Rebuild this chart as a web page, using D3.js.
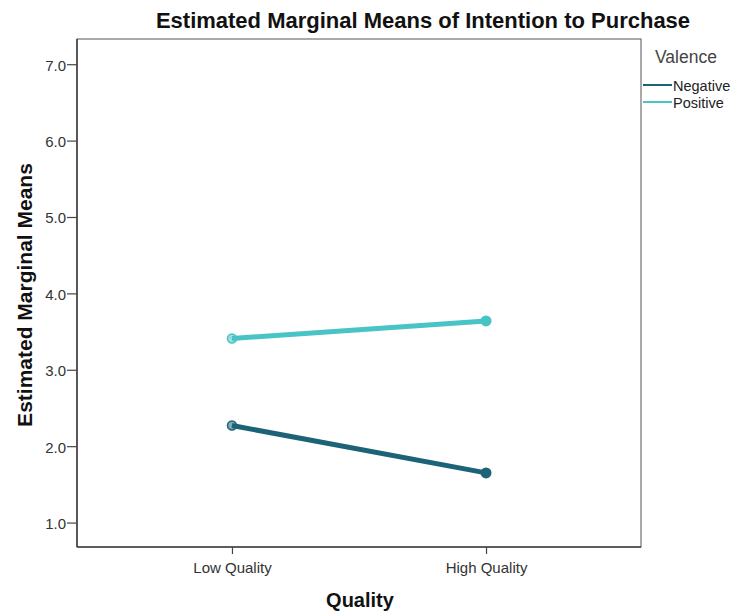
<!DOCTYPE html>
<html><head><meta charset="utf-8">
<script src="https://cdn.jsdelivr.net/npm/d3@7"></script>
<style>body{margin:0;background:#fff}svg{display:block}</style>
</head><body>
<script>
const categories = ["Low Quality", "High Quality"];
const seriesNames = ["Negative", "Positive"];
const negativeValues = [2.27, 1.65];
const positiveValues = [3.41, 3.64];
const yTicks = [1, 2, 3, 4, 5, 6, 7];
const colors = {Negative: "#1d6378", Positive: "#48c3c6"};

const W = 732, H = 613;
const pLeft = 77, pRight = 641, pTop = 39, pBottom = 547;
const svg = d3.select("body").append("svg").attr("width", W).attr("height", H)
  .style("font-family", "Arial, 'Liberation Sans', sans-serif");

const x = d3.scalePoint().domain(categories).range([pLeft, pRight]).padding(0.61);
const y = d3.scaleLinear().domain([0.68, 7.33]).range([pBottom, pTop]);

// frame
svg.append("rect").attr("x", pLeft).attr("y", pTop).attr("width", pRight - pLeft).attr("height", pBottom - pTop)
  .attr("fill", "none").attr("stroke", "#555").attr("stroke-width", 1);
svg.append("line").attr("x1", pLeft).attr("x2", pLeft).attr("y1", pTop).attr("y2", pBottom).attr("stroke", "#444").attr("stroke-width", 1.6);
svg.append("line").attr("x1", pLeft).attr("x2", pRight).attr("y1", pBottom).attr("y2", pBottom).attr("stroke", "#444").attr("stroke-width", 1.6);

const yAxis = svg.append("g").attr("transform", `translate(${pLeft},0)`)
  .call(d3.axisLeft(y).tickValues(yTicks).tickFormat(d3.format(".1f")).tickSize(10).tickSizeOuter(0));
yAxis.select(".domain").remove();
yAxis.selectAll("line").attr("stroke", "#444").attr("stroke-width", 1.2);
yAxis.selectAll("text").attr("fill", "#333").style("font-size", "15px").attr("x", -11).attr("dy", "0.4em");

const xAxis = svg.append("g").attr("transform", `translate(0,${pBottom})`)
  .call(d3.axisBottom(x).tickSize(7).tickSizeOuter(0));
xAxis.select(".domain").remove();
xAxis.selectAll("line").attr("stroke", "#444").attr("stroke-width", 1.2);
xAxis.selectAll("text").attr("fill", "#333").style("font-size", "15px").attr("y", 26).attr("dy", 0);

// titles
svg.append("text").attr("x", 423).attr("y", 28).attr("text-anchor", "middle")
  .style("font-size", "22px").style("font-weight", "bold").attr("fill", "#111")
  .text("Estimated Marginal Means of Intention to Purchase");
svg.append("text").attr("transform", "translate(32,295) rotate(-90)").attr("text-anchor", "middle")
  .style("font-size", "21px").style("font-weight", "bold").attr("fill", "#111")
  .text("Estimated Marginal Means");
svg.append("text").attr("x", 360).attr("y", 607).attr("text-anchor", "middle")
  .style("font-size", "20px").style("font-weight", "bold").attr("fill", "#111")
  .text("Quality");

const series = [
  {name: "Negative", values: negativeValues},
  {name: "Positive", values: positiveValues}
];
const line = d3.line().x((d, i) => x(categories[i])).y(d => y(d));
series.forEach(s => {
  const c = colors[s.name];
  svg.append("path").datum(s.values).attr("d", line).attr("fill", "none")
    .attr("stroke", c).attr("stroke-width", 5);
  s.values.forEach((v, i) => {
    if (i === 0) {
      svg.append("circle").attr("cx", x(categories[i])).attr("cy", y(v)).attr("r", 4.5)
        .attr("fill", c).attr("fill-opacity", 0.55).attr("stroke", c).attr("stroke-width", 1.5);
    } else {
      svg.append("circle").attr("cx", x(categories[i])).attr("cy", y(v)).attr("r", 5.5).attr("fill", c);
    }
  });
});

// legend
svg.append("text").attr("x", 655).attr("y", 63).style("font-size", "17.5px").attr("fill", "#444").text("Valence");
seriesNames.forEach((n, i) => {
  const yy = 85 + i * 17;
  svg.append("line").attr("x1", 643).attr("x2", 672).attr("y1", yy).attr("y2", yy)
    .attr("stroke", colors[n]).attr("stroke-width", 2);
  svg.append("text").attr("x", 673).attr("y", yy + 6).style("font-size", "14.5px").attr("fill", "#222").text(n);
});
</script>
</body></html>
